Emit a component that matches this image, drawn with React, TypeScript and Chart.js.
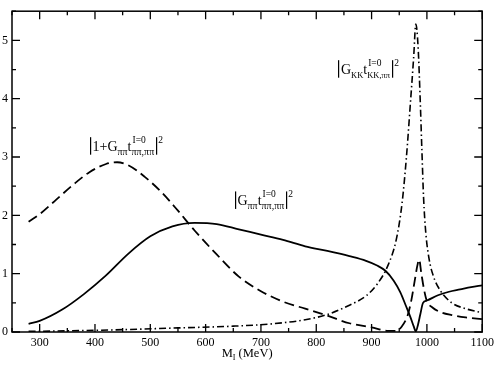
import React, { useEffect, useRef } from "react";
import { Chart, registerables } from "chart.js";

Chart.register(...registerables);

// |G_pipi t|^2 (solid)
const solidX = [280, 300, 340, 380, 420, 460, 500, 540, 580, 620, 660, 700, 740, 780, 820, 860, 890, 910, 925, 940, 952, 962, 970, 976, 980, 984, 988, 993, 1000, 1020, 1040, 1060, 1080, 1100];
const solidY = [0.14, 0.19, 0.38, 0.65, 0.97, 1.34, 1.64, 1.81, 1.87, 1.85, 1.76, 1.67, 1.58, 1.47, 1.39, 1.30, 1.22, 1.14, 1.05, 0.88, 0.68, 0.45, 0.26, 0.1, 0.01, 0.13, 0.3, 0.5, 0.54, 0.63, 0.69, 0.73, 0.77, 0.8];

// |1 + G_pipi t|^2 (dashed)
const dashX = [280, 300, 330, 360, 390, 420, 440, 460, 490, 520, 550, 580, 620, 660, 700, 740, 780, 820, 860, 900, 930, 945, 955, 965, 972, 978, 983, 986, 990, 995, 1000, 1010, 1025, 1045, 1070, 1100];
const dashY = [1.89, 2.02, 2.27, 2.52, 2.74, 2.88, 2.91, 2.86, 2.66, 2.40, 2.08, 1.74, 1.33, 0.95, 0.70, 0.52, 0.40, 0.28, 0.15, 0.08, 0.02, 0.02, 0.1, 0.28, 0.55, 0.88, 1.15, 1.24, 1.0, 0.72, 0.53, 0.42, 0.34, 0.29, 0.25, 0.22];

// |G_KK t_KK,pipi|^2 (dash-dot)
const dotX = [280, 350, 450, 550, 650, 720, 780, 820, 860, 890, 910, 930, 945, 955, 963, 970, 976, 980, 984, 988, 991, 994, 998, 1004, 1012, 1025, 1045, 1070, 1100];
const dotY = [0.01, 0.02, 0.04, 0.07, 0.1, 0.14, 0.21, 0.3, 0.46, 0.62, 0.82, 1.15, 1.6, 2.2, 3.0, 3.9, 4.7, 5.28, 4.9, 3.95, 3.1, 2.3, 1.7, 1.25, 0.95, 0.7, 0.5, 0.4, 0.33];

const xTickValues = [300, 400, 500, 600, 700, 800, 900, 1000, 1100];
const xMinorValues = [250, 350, 450, 550, 650, 750, 850, 950, 1050];
const yTickValues = [0, 1, 2, 3, 4, 5];
const yMinorValues = [0.5, 1.5, 2.5, 3.5, 4.5, 5.5];

const FONT = '"Liberation Serif", "Times New Roman", serif';

function pts(xs: number[], ys: number[]) {
  return xs.map((x, i) => ({ x, y: ys[i] }));
}

function drawLabel(ctx: CanvasRenderingContext2D, x: number, b: number, pre: string, sub1: string, sub2: string, SUB = 10) {
  const MAIN = 14, SUP = 9.5;
  const bar = (px: number) => {
    ctx.fillRect(Math.round(px), b - 14, 1.2, 17.5);
  };
  let cx = x;
  bar(cx);
  cx += 2.5;
  ctx.font = `${MAIN}px ${FONT}`;
  ctx.fillText(pre + "G", cx, b);
  cx += ctx.measureText(pre + "G").width;
  ctx.font = `${SUB}px ${FONT}`;
  ctx.fillText(sub1, cx, b + 3.5);
  cx += ctx.measureText(sub1).width;
  ctx.font = `${MAIN}px ${FONT}`;
  ctx.fillText("t", cx, b);
  cx += ctx.measureText("t").width;
  ctx.font = `${SUP}px ${FONT}`;
  ctx.fillText("I=0", cx + 1, b - 8);
  const w1 = ctx.measureText("I=0").width + 1;
  ctx.font = `${SUB}px ${FONT}`;
  ctx.fillText(sub2, cx, b + 3.5);
  const w2 = ctx.measureText(sub2).width;
  cx += Math.max(w1, w2) + 1.5;
  bar(cx);
  cx += 2.5;
  ctx.font = `${SUP}px ${FONT}`;
  ctx.fillText("2", cx, b - 8);
}

const framePlugin = {
  id: "frame",
  afterDraw(chart: any) {
    const ctx: CanvasRenderingContext2D = chart.ctx;
    const a = chart.chartArea;
    const xs = chart.scales.x;
    const ys = chart.scales.y;
    ctx.save();
    ctx.setLineDash([]);
    ctx.strokeStyle = "#000";
    ctx.fillStyle = "#000";
    ctx.lineWidth = 1.5;
    ctx.strokeRect(a.left, a.top, a.right - a.left, a.bottom - a.top);

    ctx.lineWidth = 1.3;
    ctx.beginPath();
    const xTick = (v: number, len: number) => {
      const px = xs.getPixelForValue(v);
      ctx.moveTo(px, a.bottom);
      ctx.lineTo(px, a.bottom - len);
      ctx.moveTo(px, a.top);
      ctx.lineTo(px, a.top + len);
    };
    const yTick = (v: number, len: number) => {
      const py = ys.getPixelForValue(v);
      ctx.moveTo(a.left, py);
      ctx.lineTo(a.left + len, py);
      ctx.moveTo(a.right, py);
      ctx.lineTo(a.right - len, py);
    };
    xTickValues.forEach((v) => xTick(v, 8));
    xMinorValues.forEach((v) => xTick(v, 4));
    yTickValues.forEach((v) => yTick(v, 8));
    yMinorValues.forEach((v) => yTick(v, 4));
    ctx.stroke();

    // axis title M_I (MeV)
    ctx.textBaseline = "alphabetic";
    ctx.textAlign = "left";
    ctx.font = `12.5px ${FONT}`;
    const wM = ctx.measureText("M").width;
    const wR = ctx.measureText(" (MeV)").width;
    ctx.font = `8px ${FONT}`;
    const wI = ctx.measureText("I").width;
    const total = wM + wI + wR;
    let tx = (a.left + a.right) / 2 - total / 2;
    const tb = 357;
    ctx.font = `12.5px ${FONT}`;
    ctx.fillText("M", tx, tb);
    tx += wM;
    ctx.font = `8px ${FONT}`;
    ctx.fillText("I", tx, tb + 3);
    tx += wI;
    ctx.font = `12.5px ${FONT}`;
    ctx.fillText(" (MeV)", tx, tb);

    // curve labels
    drawLabel(ctx, xs.getPixelForValue(840), ys.getPixelForValue(4.42), "", "KK", "KK,ππ", 8.5);
    drawLabel(ctx, xs.getPixelForValue(391), ys.getPixelForValue(3.1), "1+", "ππ", "ππ,ππ");
    drawLabel(ctx, xs.getPixelForValue(653), ys.getPixelForValue(2.17), "", "ππ", "ππ,ππ");
    ctx.restore();
  },
};

export default function App() {
  const ref = useRef<HTMLCanvasElement>(null);
  useEffect(() => {
    if (!ref.current) return;
    const tickFont = { family: FONT, size: 12 };
    const chart = new Chart(ref.current, {
      type: "line",
      data: {
        datasets: [
          {
            data: pts(solidX, solidY),
            borderColor: "#000",
            borderWidth: 1.8,
            pointRadius: 0,
            cubicInterpolationMode: "monotone",
          },
          {
            data: pts(dashX, dashY),
            borderColor: "#000",
            borderWidth: 1.8,
            borderDash: [10, 5],
            pointRadius: 0,
            cubicInterpolationMode: "monotone",
          },
          {
            data: pts(dotX, dotY),
            borderColor: "#000",
            borderWidth: 1.6,
            borderDash: [7, 3, 1.5, 3],
            pointRadius: 0,
            cubicInterpolationMode: "monotone",
          },
        ],
      },
      options: {
        responsive: false,
        animation: false,
        devicePixelRatio: 1,
        layout: { padding: { top: 2, right: 14, left: 0, bottom: 0 } },
        plugins: { legend: { display: false }, tooltip: { enabled: false } },
        scales: {
          x: {
            type: "linear",
            min: 250,
            max: 1100,
            afterBuildTicks: (s: any) => {
              s.ticks = xTickValues.map((v) => ({ value: v }));
            },
            afterFit: (s: any) => {
              s.height = 34;
            },
            ticks: { font: tickFont, color: "#000", padding: 4, maxRotation: 0, autoSkip: false, callback: (v: any) => String(v) },
            grid: { display: false, drawTicks: false },
            border: { display: false },
          },
          y: {
            type: "linear",
            min: 0,
            max: 5.5,
            afterBuildTicks: (s: any) => {
              s.ticks = yTickValues.map((v) => ({ value: v }));
            },
            afterFit: (s: any) => {
              s.width = 12;
            },
            ticks: { font: tickFont, color: "#000", padding: 4, callback: (v: any) => String(v) },
            grid: { display: false, drawTicks: false },
            border: { display: false },
          },
        },
      },
      plugins: [framePlugin],
    } as any);
    return () => chart.destroy();
  }, []);
  return (
    <div style={{ position: "fixed", left: 0, top: 0, width: 498, height: 366, background: "#fff" }}>
      <canvas ref={ref} width={498} height={366} />
    </div>
  );
}
